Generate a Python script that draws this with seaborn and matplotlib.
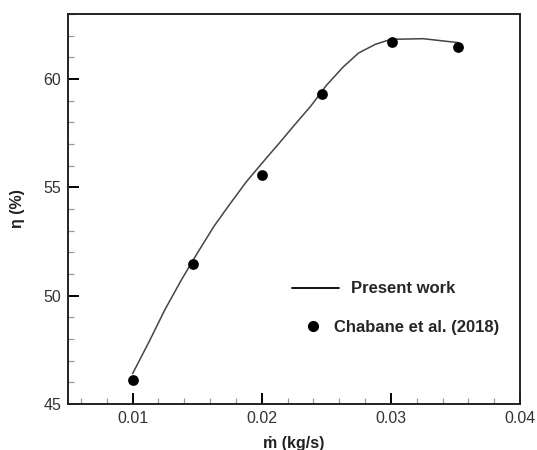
import numpy as np
import pandas as pd
import matplotlib
matplotlib.use("Agg")
import matplotlib.pyplot as plt
import seaborn as sns
from matplotlib.ticker import MultipleLocator

# --- data ---
# Present work (simulation curve)
present_x = [0.0100, 0.0113, 0.0125, 0.0138, 0.0150, 0.0163, 0.0175, 0.0188,
             0.0200, 0.0213, 0.0225, 0.0238, 0.0250, 0.0263, 0.0275, 0.0288,
             0.0300, 0.0325, 0.0352]
present_eta = [46.4, 47.9, 49.35, 50.75, 51.95, 53.2, 54.2, 55.25,
               56.1, 57.0, 57.85, 58.75, 59.7, 60.55, 61.2, 61.6,
               61.83, 61.86, 61.68]

# Chabane et al. (2018) experimental points
chabane_x = [0.0100, 0.0147, 0.0200, 0.0247, 0.0301, 0.0352]
chabane_eta = [46.1, 51.45, 55.55, 59.3, 61.7, 61.5]

sns.set_theme(style="white")
plt.rcParams['font.family'] = ['Liberation Sans', 'DejaVu Sans']

df_line = pd.DataFrame({'m': present_x, 'eta': present_eta})
df_pts = pd.DataFrame({'m': chabane_x, 'eta': chabane_eta})

fig = plt.figure(figsize=(5.37, 4.5), dpi=100)
ax = fig.add_axes([68 / 537, 46 / 450, 452 / 537, 390 / 450])

sns.lineplot(data=df_line, x='m', y='eta', ax=ax, color='#444444', linewidth=1.1,
             sort=False, legend=False)
sns.scatterplot(data=df_pts, x='m', y='eta', ax=ax, color='black', s=60,
                edgecolor='black', linewidth=0, zorder=3, legend=False)

ax.set_xlim(0.005, 0.04)
ax.set_ylim(45, 63)
ax.xaxis.set_major_locator(MultipleLocator(0.01))
ax.xaxis.set_minor_locator(MultipleLocator(0.002))
ax.yaxis.set_major_locator(MultipleLocator(5))
ax.yaxis.set_minor_locator(MultipleLocator(1))
ax.set_xticks([0.01, 0.02, 0.03, 0.04])
ax.set_xticklabels(['0.01', '0.02', '0.03', '0.04'])

ax.tick_params(which='major', direction='in', length=8, width=1.4, color='black',
               labelsize=11.5, labelcolor='#333333', pad=5)
ax.tick_params(which='minor', direction='in', length=4, width=0.9, color='#999999')
ax.tick_params(axis='both', which='both', top=False, right=False, bottom=True, left=True)

for sp in ax.spines.values():
    sp.set_color('#222222')
    sp.set_linewidth(1.4)

ax.set_xlabel('ṁ (kg/s)', fontsize=11.5, fontweight='bold', color='#222222', labelpad=7)
ax.set_ylabel('η (%)', fontsize=11.5, fontweight='bold', color='#222222', labelpad=13)

# two separate legend entries to match their layout in the figure
line_h, = ax.plot([], [], color='black', linewidth=1.3)
pt_h, = ax.plot([], [], 'o', color='black', markersize=7)

leg1 = ax.legend([line_h], ['Present work'], loc='center left',
                 bbox_to_anchor=(0.4956, 0.295), frameon=False, borderpad=0,
                 borderaxespad=0, handlelength=2.8, handletextpad=0.75,
                 prop={'size': 12, 'weight': 'bold'})
ax.add_artist(leg1)
ax.legend([pt_h], ['Chabane et al. (2018)'], loc='center left',
          bbox_to_anchor=(0.525, 0.197), frameon=False, borderpad=0,
          borderaxespad=0, handlelength=0.9, handletextpad=0.8,
          prop={'size': 12, 'weight': 'bold'})

fig.savefig('out.png', dpi=100)
